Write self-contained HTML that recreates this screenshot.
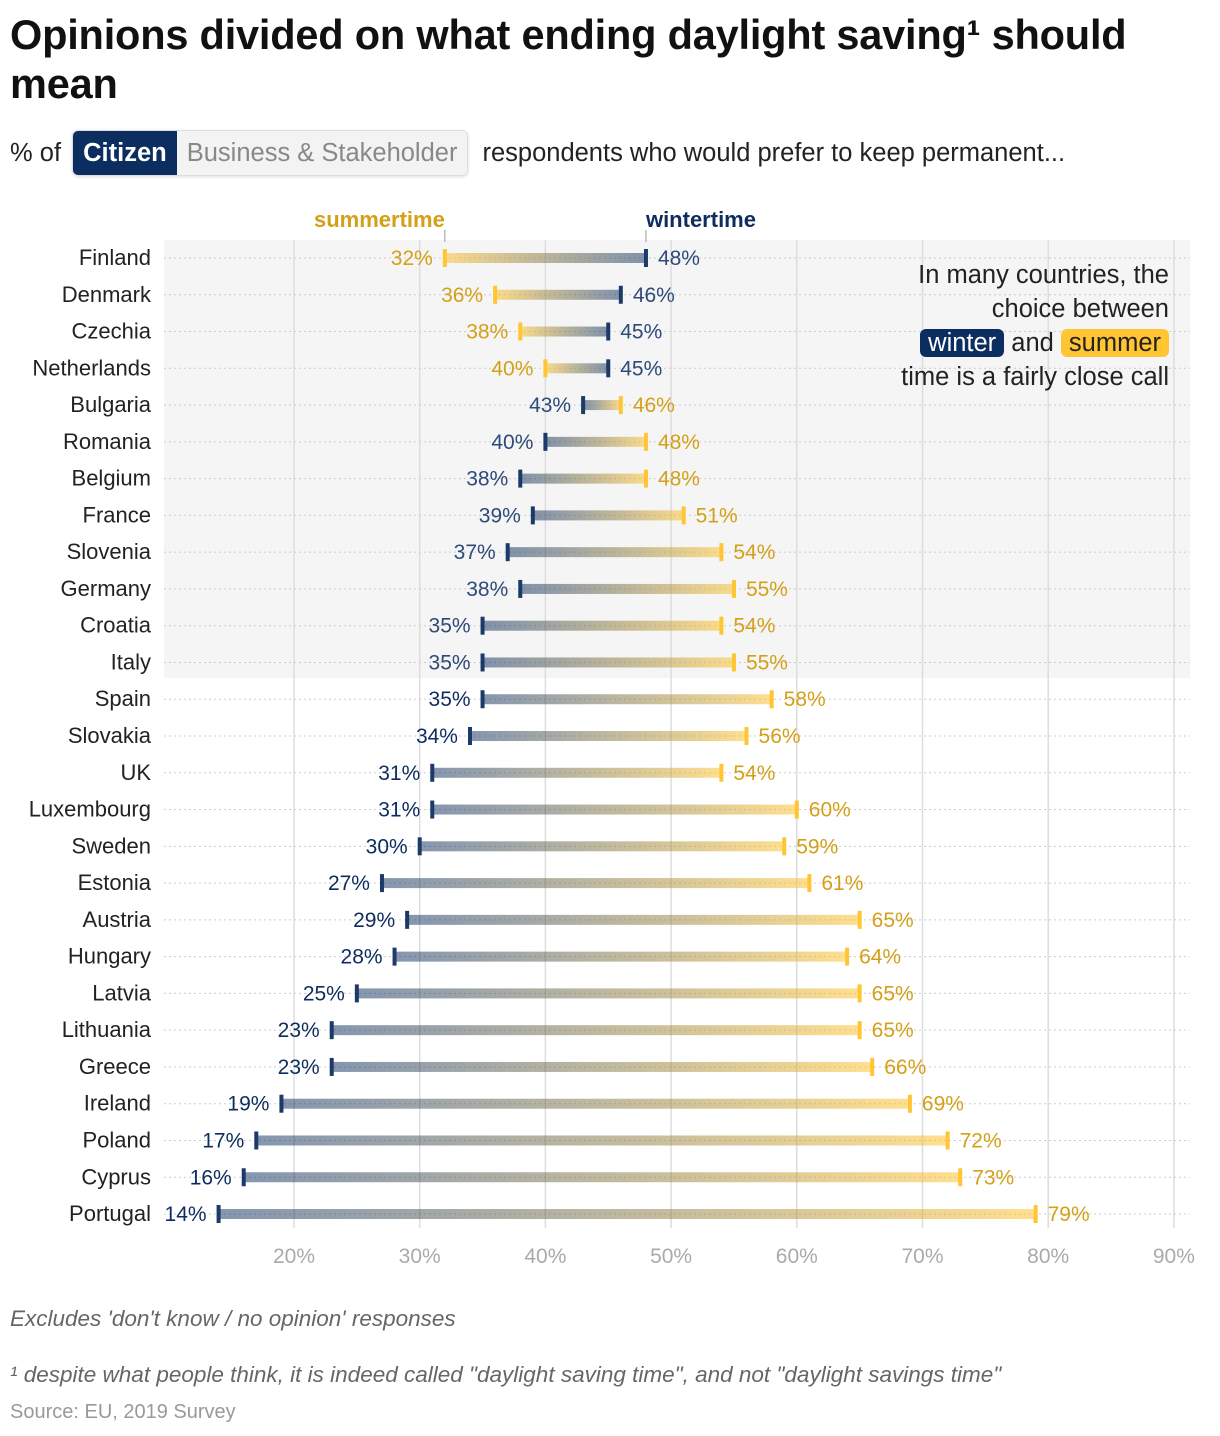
<!DOCTYPE html>
<html><head><meta charset="utf-8"><style>
body{margin:0;width:1220px;height:1436px;background:#fff;font-family:"Liberation Sans",sans-serif;position:relative;overflow:hidden}
.t{position:absolute;left:10px;top:10px;font-size:41.5px;font-weight:bold;line-height:49px;color:#111;letter-spacing:-0.2px}
.sub{position:absolute;left:10px;top:130px;font-size:25.5px;color:#222;display:flex;align-items:center;height:46px}
.btn{display:inline-block;padding:0 10px;height:44px;line-height:44px;font-size:25.5px}
.foot{position:absolute;left:10px;font-size:22.5px;color:#666;font-style:italic}
</style></head><body>
<div class="t">Opinions divided on what ending daylight saving¹ should<br>mean</div>
<div class="sub"><span>% of&nbsp;</span>
<span style="display:inline-flex;border:1px solid #ddd;border-radius:6px;overflow:hidden;margin-left:4px;box-shadow:0 1px 3px #ddd">
<span class="btn" style="background:#0b2d5f;color:#fff;font-weight:bold">Citizen</span>
<span class="btn" style="background:#f3f3f3;color:#888">Business &amp; Stakeholder</span></span>
<span style="margin-left:14px">respondents who would prefer to keep permanent...</span></div>
<svg id="chart" width="1220" height="1300" style="position:absolute;left:0;top:0"></svg>
<div style="position:absolute;right:51px;top:258px;text-align:right;font-size:25.5px;line-height:34px;color:#222">In many countries, the<br>choice between<br><span style="background:#0b2d5f;color:#fff;border-radius:6px;padding:0 8px">winter</span> and <span style="background:#ffc533;color:#222;border-radius:6px;padding:0 8px">summer</span><br>time is a fairly close call</div>
<div class="foot" style="top:1306px">Excludes 'don't know / no opinion' responses</div>
<div class="foot" style="top:1362px">¹ despite what people think, it is indeed called "daylight saving time", and not "daylight savings time"</div>
<div style="position:absolute;left:10px;top:1401px;font-size:20px;color:#999">Source: EU, 2019 Survey</div>
<script>
const countries=["Finland","Denmark","Czechia","Netherlands","Bulgaria","Romania","Belgium","France","Slovenia","Germany","Croatia","Italy","Spain","Slovakia","UK","Luxembourg","Sweden","Estonia","Austria","Hungary","Latvia","Lithuania","Greece","Ireland","Poland","Cyprus","Portugal"];
const summer=[32,36,38,40,46,48,48,51,54,55,54,55,58,56,54,60,59,61,65,64,65,65,66,69,72,73,79];
const winter=[48,46,45,45,43,40,38,39,37,38,35,35,35,34,31,31,30,27,29,28,25,23,23,19,17,16,14];
const ticks=[20,30,40,50,60,70,80,90];
const NS="http://www.w3.org/2000/svg",svg=document.getElementById('chart');
const x=v=>294+(v-20)*12.57, y=i=>258+i*36.77;
function mk(t,a,p){const e=document.createElementNS(NS,t);for(const k in a)e.setAttribute(k,a[k]);(p||svg).appendChild(e);return e;}
const defs=mk('defs',{});
let bg=mk('rect',{x:164,y:240,width:1026,height:438,fill:'#f5f5f5'});


ticks.forEach(t=>{
 let l=mk('line',{x1:x(t),x2:x(t),y1:240,y2:1228,stroke:'#ddd','stroke-width':1.5});
 
 
 let tx=mk('text',{x:x(t),y:1263,'text-anchor':'middle','font-size':21,fill:'#aaa'});tx.textContent=t+'%';
 
 
});
countries.forEach((c,i)=>{
 const yy=y(i),s=summer[i],w=winter[i],xs=x(s),xw=x(w);
 let d=mk('line',{x1:164,x2:1190,y1:yy,y2:yy,stroke:'#ccc','stroke-dasharray':'2,3'});
 
 
 let cl=mk('text',{x:151,y:yy+7,'text-anchor':'end','font-size':22,fill:'#222'});cl.textContent=c;
 
 
 const g=mk('linearGradient',{id:'g'+i,gradientUnits:'userSpaceOnUse',x1:xs,x2:xw,y1:0,y2:0},defs);
 mk('stop',{offset:0,'stop-color':'#ffc533','stop-opacity':0.55},g);
 mk('stop',{offset:1,'stop-color':'#0b2d5f','stop-opacity':0.5},g);
 let b=mk('rect',{x:Math.min(xs,xw),y:yy-5,width:Math.abs(xs-xw),height:10,fill:'url(#g'+i+')'});
 
 
 let ms=mk('rect',{x:xs-2,y:yy-9,width:4,height:18,fill:'#ffc533'});
 
 
 let mw=mk('rect',{x:xw-2,y:yy-9,width:4,height:18,fill:'#1c3a68'});
 
 
 const sRight=s>w;
 let ls=mk('text',{x:sRight?xs+12:xs-12,y:yy+7,'text-anchor':sRight?'start':'end','font-size':21,fill:'#d4a018'});ls.textContent=s+'%';
 
 
 let lw=mk('text',{x:sRight?xw-12:xw+12,y:yy+7,'text-anchor':sRight?'end':'start','font-size':21,fill:i<12?'#2e4a78':'#0e2d5e'});lw.textContent=w+'%';
 
 
 if(i===0){
  mk('line',{x1:xs,x2:xs,y1:230,y2:242,stroke:'#999'});mk('line',{x1:xw,x2:xw,y1:230,y2:242,stroke:'#999'});
  let a=mk('text',{x:xs,y:227,'text-anchor':'end','font-size':22,'font-weight':'bold',fill:'#d4a018'});a.textContent='summertime';
  
  
  let b2=mk('text',{x:xw,y:227,'text-anchor':'start','font-size':22,'font-weight':'bold',fill:'#0e2d5e'});b2.textContent='wintertime';
  
  
 }
});
</script>
</body></html>
